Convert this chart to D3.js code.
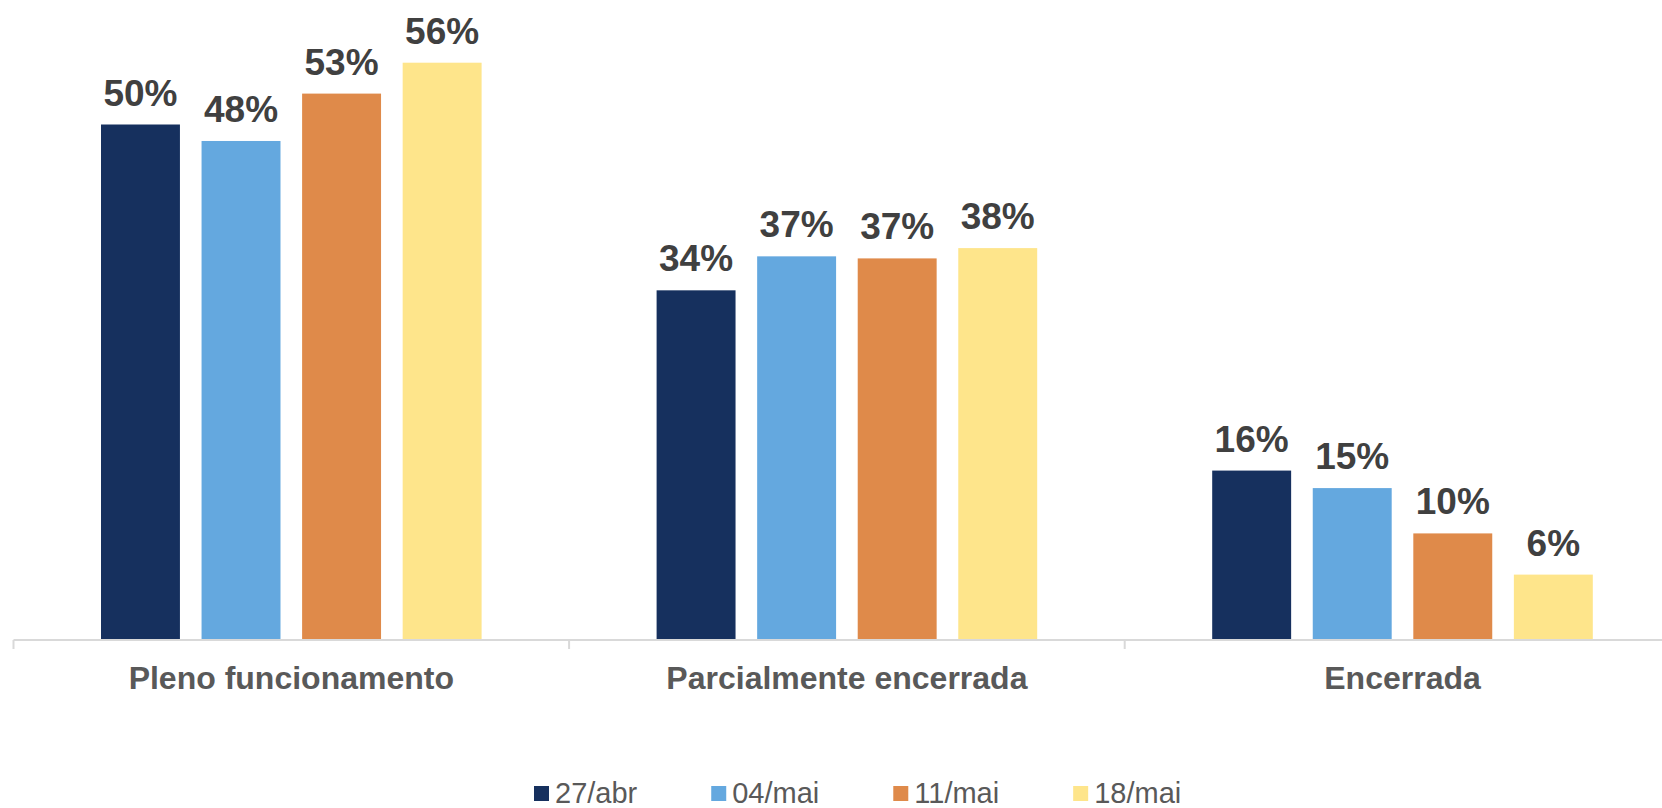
<!DOCTYPE html>
<html>
<head>
<meta charset="utf-8">
<script src="https://cdn.jsdelivr.net/npm/d3@7"></script>
<style>
  html, body { margin: 0; padding: 0; background: #ffffff; }
  svg text { font-family: "Liberation Sans", Arial, sans-serif; }
</style>
</head>
<body>
<div id="chart"></div>
<script>
// Chart data
const categories = ['Pleno funcionamento', 'Parcialmente encerrada', 'Encerrada'];
const seriesNames = ['27/abr', '04/mai', '11/mai', '18/mai'];
const abr27 = [50.0, 33.9, 16.4];
const mai04 = [48.4, 37.2, 14.7];
const mai11 = [53.0, 37.0, 10.3];
const mai18 = [56.0, 38.0, 6.3];
const seriesValues = [abr27, mai04, mai11, mai18];
const colors = ['#16305e', '#64a8df', '#df8a4a', '#fee58b'];

// Set constants
const WIDTH = 1662;
const HEIGHT = 808;
const AXIS_Y = 639.5;
const LEFT = 13.5;
const BAND = 555.6;
const GROUP_PAD = 87.5;

const svg = d3.select('#chart')
              .append('svg')
              .attr('width', WIDTH)
              .attr('height', HEIGHT);

// Scales
const x0 = d3.scaleBand()
             .domain(categories)
             .range([LEFT, LEFT + BAND * categories.length])
             .padding(0);

const x1 = d3.scaleBand()
             .domain(seriesNames)
             .range([GROUP_PAD, BAND - GROUP_PAD])
             .paddingInner(0.215)
             .paddingOuter(0);

const yScale = d3.scaleLinear()
                 .domain([0, 60])
                 .range([AXIS_Y, AXIS_Y - 618]);

// Build rows: one per category, holding each series value
const rows = categories.map((c, i) => ({
  category: c,
  values: seriesNames.map((s, j) => ({ series: s, value: seriesValues[j][i], color: colors[j] }))
}));

const groups = svg.selectAll('g.group')
                  .data(rows)
                  .enter()
                  .append('g')
                  .attr('class', 'group')
                  .attr('transform', d => 'translate(' + x0(d.category) + ',0)');

groups.selectAll('rect')
      .data(d => d.values)
      .enter()
      .append('rect')
      .attr('x', d => x1(d.series))
      .attr('y', d => yScale(d.value))
      .attr('width', x1.bandwidth())
      .attr('height', d => AXIS_Y - yScale(d.value))
      .attr('fill', d => d.color);

// Value labels above bars
groups.selectAll('text.value')
      .data(d => d.values)
      .enter()
      .append('text')
      .attr('class', 'value')
      .attr('x', d => x1(d.series) + x1.bandwidth() / 2)
      .attr('y', d => yScale(d.value) - 19)
      .attr('text-anchor', 'middle')
      .attr('font-size', '37px')
      .attr('font-weight', 'bold')
      .attr('fill', '#404040')
      .text(d => Math.round(d.value) + '%');

// x-axis
const xAxis = d3.axisBottom(x0).tickSize(0).tickFormat('');
const axisG = svg.append('g')
                 .attr('transform', 'translate(0,' + (AXIS_Y + 0.5) + ')')
                 .call(xAxis);
axisG.select('.domain')
     .attr('stroke', '#d9d9d9')
     .attr('stroke-width', 2)
     .attr('d', 'M' + LEFT + ',0H' + (LEFT + BAND * categories.length));

// Tick marks between categories
const edges = categories.map(c => x0(c));
axisG.selectAll('line.edge')
     .data(edges)
     .enter()
     .append('line')
     .attr('class', 'edge')
     .attr('x1', d => d)
     .attr('x2', d => d)
     .attr('y1', 0)
     .attr('y2', 9)
     .attr('stroke', '#d9d9d9')
     .attr('stroke-width', 2);

// Category labels
svg.selectAll('text.cat')
   .data(categories)
   .enter()
   .append('text')
   .attr('class', 'cat')
   .attr('x', d => x0(d) + BAND / 2)
   .attr('y', 689)
   .attr('text-anchor', 'middle')
   .attr('font-size', '32px')
   .attr('font-weight', 'bold')
   .attr('fill', '#595959')
   .text(d => d);

// Legend
const legend = svg.append('g').attr('class', 'legend');
let lx = 534;
seriesNames.forEach((s, i) => {
  const item = legend.append('g').attr('transform', 'translate(' + lx + ',0)');
  item.append('rect')
      .attr('x', 0)
      .attr('y', 786)
      .attr('width', 15)
      .attr('height', 15)
      .attr('fill', colors[i]);
  const t = item.append('text')
                .attr('x', 21)
                .attr('y', 803)
                .attr('font-size', '29px')
                .attr('fill', '#595959')
                .text(s);
  lx += 21 + t.node().getComputedTextLength() + 74;
});
</script>
</body>
</html>
